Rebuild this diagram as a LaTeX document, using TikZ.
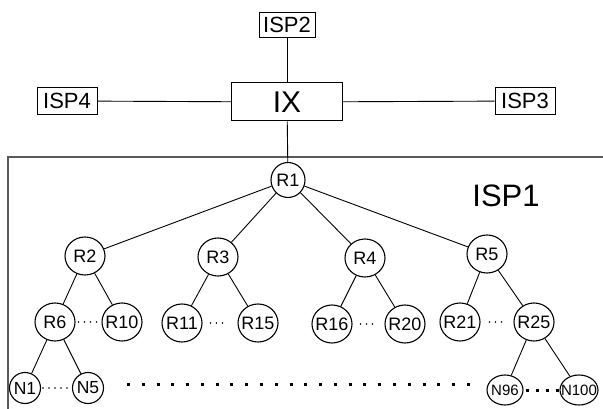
\documentclass[tikz,border=0pt]{standalone}
\usepackage{fontspec}
\setmainfont{Liberation Sans}
\usetikzlibrary{shapes.geometric}
\newcommand\zlbl[1]{\makebox[0pt][c]{#1}}
\begin{document}
\begin{tikzpicture}[x=1pt,y=-1pt,
  conn/.style={draw=black, line width=0.9pt},
  ispbox/.style={draw=black, line width=1pt, rectangle, inner sep=0pt, font=\fontsize{22}{22}\selectfont},
  rnode/.style={draw=black, line width=1.1pt, ellipse, inner sep=0pt, minimum width=40pt, minimum height=38pt, font=\fontsize{18}{18}\selectfont},
  nnode/.style={draw=black, line width=1.1pt, ellipse, inner sep=0pt, minimum width=31pt, minimum height=31pt, font=\fontsize{17.5}{17.5}\selectfont},
  smalldots/.style={line width=1.8pt, line cap=round, dash pattern=on 0pt off 6pt},
  bigdots/.style={line width=3pt, dash pattern=on 3pt off 7pt},
  rowdots/.style={line width=3pt, dash pattern=on 3pt off 11.78pt},
  frame/.style={draw=black!65, line width=2pt}
]
\useasboundingbox (0,0) rectangle (603,409);

% frame of ISP1
\draw[frame] (8,409) -- (8,157) -- (603,157);
\node[font=\fontsize{31}{31}\selectfont] (isp1) at (506,196) {ISP1};

% top
\node[ispbox, minimum width=56pt, minimum height=25pt] (isp2) at (287,25) {ISP2};
\node[ispbox, minimum width=111pt, minimum height=38pt, font=\fontsize{30}{30}\selectfont] (ix) at (287,102) {IX};
\node[ispbox, minimum width=60pt, minimum height=27pt] (isp4) at (67,101) {ISP4};
\node[ispbox, minimum width=60pt, minimum height=27pt] (isp3) at (525,101) {ISP3};

% routers
\node[rnode, minimum width=34pt, minimum height=35pt] (r1) at (288,180) {\zlbl{R1}};
\node[rnode] (r2) at (85,256) {\zlbl{R2}};
\node[rnode] (r3) at (218,257) {\zlbl{R3}};
\node[rnode] (r4) at (365,258) {\zlbl{R4}};
\node[rnode] (r5) at (487,254) {\zlbl{R5}};

\node[rnode] (r6) at (55,322) {\zlbl{R6}};
\node[rnode] (r10) at (122,322) {\zlbl{R10}};
\node[rnode] (r11) at (182,323) {\zlbl{R11}};
\node[rnode] (r15) at (258,323) {\zlbl{R15}};
\node[rnode] (r16) at (332,324) {\zlbl{R16}};
\node[rnode] (r20) at (405,324) {\zlbl{R20}};
\node[rnode] (r21) at (460,322) {\zlbl{R21}};
\node[rnode] (r25) at (534,322) {\zlbl{R25}};

\node[nnode] (n1) at (25,388) {\zlbl{N1}};
\node[nnode] (n5) at (88,388) {\zlbl{N5}};
\node[nnode, minimum width=36pt, minimum height=30pt, font=\fontsize{15}{15}\selectfont] (n96) at (505,390) {\zlbl{N96}};
\node[nnode, minimum width=38pt, minimum height=30pt, font=\fontsize{15}{15}\selectfont] (n100) at (579,390) {\zlbl{N100}};

% connectors
\draw[conn] (isp2) -- (ix);
\draw[conn] (isp4) -- (ix);
\draw[conn] (ix) -- (isp3);
\draw[conn] (ix) -- (r1);
\foreach \c in {r2,r3,r4,r5} \draw[conn] (r1) -- (\c);
\draw[conn] (r2) -- (r6);
\draw[conn] (r2) -- (r10);
\draw[conn] (r3) -- (r11);
\draw[conn] (r3) -- (r15);
\draw[conn] (r4) -- (r16);
\draw[conn] (r4) -- (r20);
\draw[conn] (r5) -- (r21);
\draw[conn] (r5) -- (r25);
\draw[conn] (r6) -- (n1);
\draw[conn] (r6) -- (n5);
\draw[conn] (r25) -- (n96);
\draw[conn] (r25) -- (n100);

% dots
\draw[smalldots, shorten <=3pt] (r6) -- (r10);
\draw[smalldots, shorten <=8pt, shorten >=9pt] (r11) -- (r15);
\draw[smalldots, shorten <=8pt, shorten >=9pt] (r16) -- (r20);
\draw[smalldots, shorten <=9pt, shorten >=9pt] (r21) -- (r25);
\draw[smalldots, shorten <=2pt] (n1) -- (n5);
\draw[bigdots, shorten <=2pt] (n96) -- (n100);
\coordinate (dA) at (127,384);
\coordinate (dB) at (470,384);
\draw[rowdots] (dA) -- (dB);
\end{tikzpicture}
\end{document}
